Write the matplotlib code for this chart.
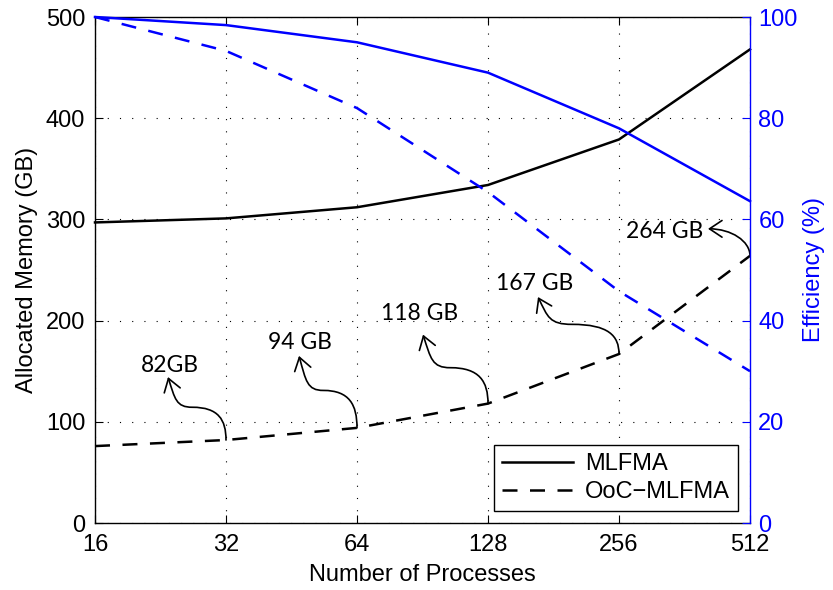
import matplotlib
matplotlib.use("Agg")
import matplotlib.pyplot as plt
from matplotlib.patches import ConnectionStyle
from matplotlib.path import Path

# ---- data ----
processes = [16, 32, 64, 128, 256, 512]
mlfma_mem = [297, 301, 312, 334, 379, 468]
ooc_mem = [76, 82, 94, 118, 167, 264]
mlfma_eff = [100, 98.4, 95, 89, 78, 63.6]
ooc_eff = [100, 93.3, 82, 65.4, 45.8, 30]
ann_labels = ["82GB", "94 GB", "118 GB", "167 GB", "264 GB"]
ann_index = [1, 2, 3, 4, 5]
# offsets (pixels) of the arrow head and text baseline centre from the data point
ann_head = [(-58, 63), (-58, 72), (-65, 69), (-81, 57), (-42, 27)]
ann_text = [(-56, 68), (-57, 79), (-68, 84), (-84, 64), (-85, 18)]
ann_kind = ["S", "S", "S", "S", "L"]
xtick_labels = ["16", "32", "64", "128", "256", "512"]

plt.rcParams['font.family'] = ['Liberation Sans', 'DejaVu Sans']
FS = 17


class Curly(ConnectionStyle._Base):
    def __init__(self, kind="S"):
        self.kind = kind

    def connect(self, posA, posB):
        hx, hy = posA
        tx, ty = posB
        dx = hx - tx
        dy = hy - ty
        if self.kind == "S":
            mx, my = tx + 0.58 * dx, ty + 0.52 * dy
            verts = [(hx, hy),
                     (hx - 0.12 * dx, hy - 0.35 * dy), (mx + 0.28 * dx, my), (mx, my),
                     (mx - 0.45 * dx, my), (tx, ty + 0.32 * dy), (tx, ty)]
            codes = [Path.MOVETO] + [Path.CURVE4] * 6
        else:
            verts = [(hx, hy), (hx - 0.55 * dx, hy), (tx, ty + 0.55 * dy), (tx, ty)]
            codes = [Path.MOVETO] + [Path.CURVE4] * 3
        return Path(verts, codes)


fig = plt.figure(figsize=(8.33, 5.9), dpi=100)
ax = fig.add_axes([95 / 833, 1 - 523 / 590, 655 / 833, 506 / 590])
ax2 = ax.twinx()

LW = 1.8
dash = (0, (6, 5))
l1, = ax.plot(processes, mlfma_mem, color='k', lw=LW, label='MLFMA', clip_on=False, zorder=3)
l2, = ax.plot(processes, ooc_mem, color='k', lw=LW, ls=dash, label='OoC\u2212MLFMA', clip_on=False, zorder=3)
ax2.plot(processes, mlfma_eff, color='#0000ff', lw=LW, clip_on=False)
ax2.plot(processes, ooc_eff, color='#0000ff', lw=LW, ls=dash, clip_on=False)

ax.set_xscale('log', base=2)
ax.set_xlim(16, 512)
ax.set_xticks(processes)
ax.set_xticklabels(xtick_labels)
ax.minorticks_off()
ax.set_ylim(0, 500)
ax.set_yticks([0, 100, 200, 300, 400, 500])
ax2.set_ylim(0, 100)
ax2.set_yticks([0, 20, 40, 60, 80, 100])

ax.grid(True, color='k', ls=(0, (1, 10)), lw=0.8)

ax.tick_params(axis='x', direction='in', top=True, length=6, width=0.8, labelsize=FS, pad=8)
ax.tick_params(axis='y', direction='in', length=6, width=0.8, labelsize=FS, pad=7, right=False)
ax2.tick_params(axis='y', direction='in', length=6, width=0.8, labelsize=FS, pad=6,
                colors='#0000ff')

for s in ['left', 'top', 'bottom']:
    ax.spines[s].set_linewidth(1.0)
ax.spines['right'].set_visible(False)
for s in ['left', 'top', 'bottom']:
    ax2.spines[s].set_visible(False)
ax2.spines['right'].set_color('#0000ff')
ax2.spines['right'].set_linewidth(1.0)

ax.set_xlabel('Number of Processes', fontsize=FS, labelpad=6)
ax.set_ylabel('Allocated Memory (GB)', fontsize=FS, labelpad=6)
ax2.set_ylabel('Efficiency (%)', fontsize=FS, color='#0000ff', labelpad=4)

for lab, i, hd, tp, kind in zip(ann_labels, ann_index, ann_head, ann_text, ann_kind):
    ax.annotate("", xy=(processes[i], ooc_mem[i]), xytext=hd, textcoords='offset pixels',
                arrowprops=dict(arrowstyle='<-,head_length=0.45,head_width=0.3',
                                connectionstyle=Curly(kind), lw=1.2, color='k',
                                shrinkA=0, shrinkB=0, mutation_scale=20),
                annotation_clip=False)
    ax.annotate(lab, xy=(processes[i], ooc_mem[i]), xytext=tp, textcoords='offset pixels',
                ha='center', va='baseline', fontsize=16.5, family=['Lato', 'DejaVu Sans'],
                annotation_clip=False)

leg = ax2.legend(handles=[l1, l2], loc='lower right', fontsize=FS, fancybox=False,
                 edgecolor='k', framealpha=1, handlelength=3.0, borderaxespad=0.5,
                 borderpad=0.35, labelspacing=0.25, handletextpad=0.5)
leg.get_frame().set_linewidth(1.0)

fig.savefig('out.png', dpi=100)
